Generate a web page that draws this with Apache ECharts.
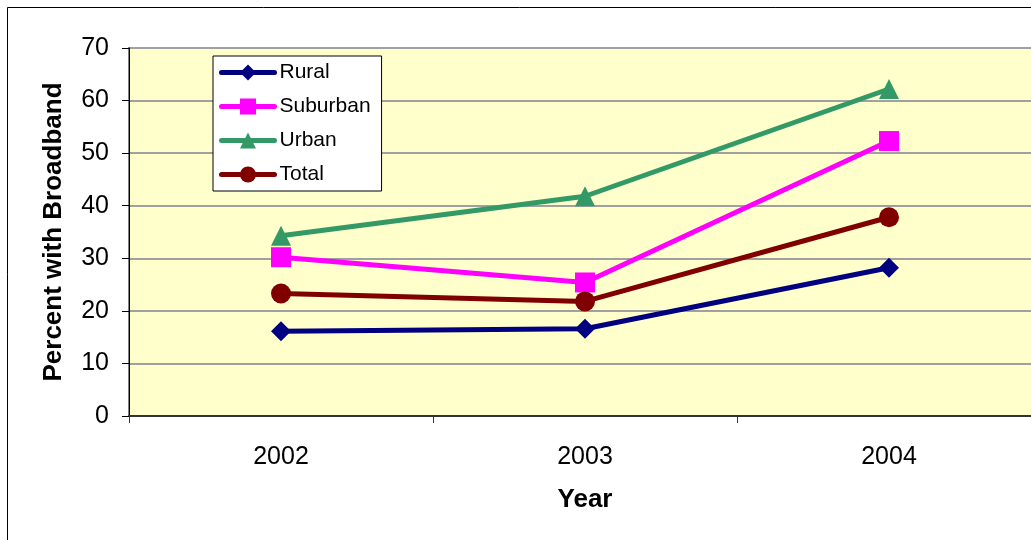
<!DOCTYPE html>
<html>
<head>
<meta charset="utf-8">
<script src="https://cdn.jsdelivr.net/npm/echarts@6/dist/echarts.min.js"></script>
<style>
  html, body { margin: 0; padding: 0; background: #fff; }
  #chart { width: 1031px; height: 540px; }
</style>
</head>
<body>
<div id="chart"></div>
<script>
// 数据
const years = ['2002', '2003', '2004'];
const rural = [16.1, 16.6, 28.2];
const suburban = [30.2, 25.4, 52.3];
const urban = [34.3, 41.8, 62.2];
const total = [23.3, 21.8, 37.8];

const chart = echarts.init(document.getElementById('chart'));

function lineSeries(name, data, color, symbol, size) {
    return {
        name: name,
        type: 'line',
        data: data,
        symbol: symbol,
        symbolSize: size,
        lineStyle: { color: color, width: 5 },
        itemStyle: { color: color },
        animation: false
    };
}

chart.setOption({
    backgroundColor: '#fff',
    textStyle: { fontFamily: 'Liberation Sans, Arial, sans-serif' },
    graphic: [{
        type: 'rect',
        shape: { x: 7.5, y: 7.5, width: 1100, height: 600 },
        style: { fill: 'none', stroke: '#000', lineWidth: 1 },
        silent: true
    }],
    grid: {
        left: 129,
        top: 48,
        width: 912,
        height: 368,
        outerBoundsMode: 'none',
        containLabel: false,
        show: true,
        backgroundColor: '#ffffcc',
        borderColor: '#808080',
        borderWidth: 2
    },
    legend: {
        left: 213,
        top: 56,
        orient: 'vertical',
        backgroundColor: '#fff',
        borderColor: '#000',
        borderWidth: 1,
        borderRadius: 0,
        padding: [6, 11, 6, 6],
        itemWidth: 53,
        itemHeight: 20,
        itemGap: 13,
        lineStyle: { width: 5, cap: 'round' },
        textStyle: { fontSize: 21, color: '#000', padding: [0, 0, 0, 0] },
        data: ['Rural', 'Suburban', 'Urban', 'Total']
    },
    xAxis: {
        type: 'category',
        data: years,
        boundaryGap: true,
        name: 'Year',
        nameLocation: 'middle',
        nameGap: 71,
        nameTextStyle: { fontSize: 26, fontWeight: 'bold', color: '#000' },
        axisLine: { lineStyle: { color: '#333', width: 2 } },
        axisTick: { show: true, length: 7, lineStyle: { color: '#333' } },
        axisLabel: { fontSize: 25, color: '#000', margin: 29 },
        splitLine: { show: false }
    },
    yAxis: {
        type: 'value',
        min: 0,
        max: 70,
        interval: 10,
        name: 'Percent with Broadband',
        nameLocation: 'middle',
        nameGap: 62,
        nameTextStyle: { fontSize: 26, fontWeight: 'bold', color: '#000' },
        axisLine: { show: true, lineStyle: { color: '#000', width: 1 } },
        axisTick: { show: true, length: 7, lineStyle: { color: '#000' } },
        axisLabel: { fontSize: 25, color: '#000', margin: 20 },
        splitLine: { show: true, lineStyle: { color: '#a0a0a0', width: 2 } }
    },
    series: [
        lineSeries('Rural', rural, '#000080', 'diamond', 20),
        lineSeries('Suburban', suburban, '#ff00ff', 'rect', 20),
        lineSeries('Urban', urban, '#339966', 'triangle', 20),
        lineSeries('Total', total, '#800000', 'circle', 20)
    ]
});
</script>
</body>
</html>
